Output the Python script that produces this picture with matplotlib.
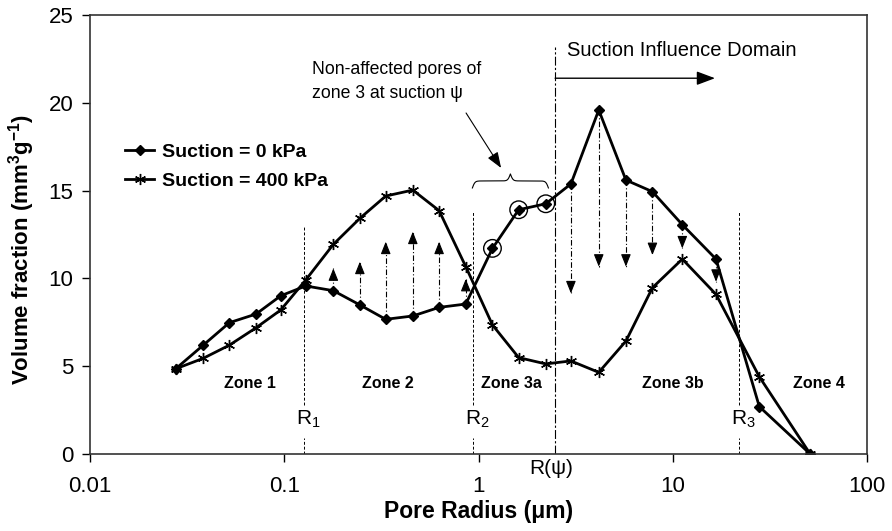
import numpy as np
import matplotlib.pyplot as plt

plt.rcParams['font.family'] = ['Liberation Sans', 'DejaVu Sans']
plt.rcParams['mathtext.fontset'] = 'custom'
plt.rcParams['mathtext.rm'] = 'Liberation Sans'
plt.rcParams['mathtext.bf'] = 'Liberation Sans:bold'

# pore radius (um) and volume fraction (mm3/g)
radius = [0.0276, 0.0383, 0.0522, 0.0716, 0.0959, 0.129, 0.179, 0.245, 0.333, 0.459,
          0.627, 0.860, 1.18, 1.61, 2.22, 2.99, 4.16, 5.74, 7.86, 11.2, 16.7, 27.9, 51.0]
suction_0 = [4.85, 6.2, 7.48, 7.97, 9.01, 9.57, 9.3, 8.49, 7.67, 7.86, 8.35, 8.54,
             11.71, 13.91, 14.25, 15.38, 19.59, 15.6, 14.94, 13.06, 11.1, 2.7, 0.0]
suction_400 = [4.85, 5.45, 6.2, 7.19, 8.2, 9.91, 11.94, 13.42, 14.69, 15.03, 13.86, 10.67,
               7.35, 5.49, 5.13, 5.30, 4.65, 6.43, 9.47, 11.1, 9.09, 4.40, 0.0]

# swelling arrows (zone 2, up) and shrinking arrows (zone 3b, down)
up_idx = [6, 7, 8, 9, 10, 11]
up_to = [10.57, 10.95, 12.09, 12.66, 12.09, 9.97]
down_idx = [15, 16, 17, 18, 19, 20]
down_to = [9.15, 10.67, 10.67, 11.33, 11.71, 9.81]
circled_idx = [12, 13, 14]

# zone boundaries
r_bounds = [0.126, 0.935, 21.9]
r_names = ['R$_1$', 'R$_2$', 'R$_3$']
r_tops = [13.0, 13.8, 13.8]
r_psi = 2.48
zone_x = [0.0667, 0.342, 1.48, 10.0, 56.8]
zone_names = ['Zone 1', 'Zone 2', 'Zone 3a', 'Zone 3b', 'Zone 4']

fig = plt.figure(figsize=(8.92, 5.31), dpi=100)
ax = fig.add_axes([90 / 892, 77 / 531, 777 / 892, 439 / 531])

ax.plot(radius, suction_0, color='k', lw=2, marker='D', ms=5, label='Suction = 0 kPa')
ax.plot(radius, suction_400, color='k', lw=2, marker=(6, 2, 0), ms=8, mew=1,
        label='Suction = 400 kPa')

x0 = np.array(radius)
y0 = np.array(suction_0)
ax.scatter(x0[circled_idx], y0[circled_idx], s=160, facecolors='none',
           edgecolors='k', lw=1, zorder=5)

head_kw = dict(arrowstyle='-|>,head_length=0.75,head_width=0.3', color='k', lw=0.8,
               shrinkA=0, shrinkB=0, mutation_scale=10)


def dash_arrow(x, y_from, y_to):
    ax.plot([x, x], [y_from, y_to], color='k', lw=0.8, ls=(0, (5, 2, 1, 2)))
    off = -7 if y_to > y_from else 7
    ax.annotate('', xy=(x, y_to), xytext=(0, off), textcoords='offset points',
                arrowprops=head_kw)


for i, top in zip(up_idx, up_to):
    dash_arrow(x0[i], y0[i], top)
for i, bot in zip(down_idx, down_to):
    dash_arrow(x0[i], y0[i], bot)

# R1, R2, R3 lines with a gap for the label
for xb, name, top in zip(r_bounds, r_names, r_tops):
    ax.plot([xb, xb], [2.8, top], color='k', lw=0.7, ls=(0, (3, 2)))
    ax.plot([xb, xb], [0, 0.9], color='k', lw=0.7, ls=(0, (3, 2)))
    ax.text(xb * 1.05, 2.0, name, fontsize=15, ha='center', va='center')

ax.plot([r_psi, r_psi], [0, 23.2], color='k', lw=0.8, ls=(0, (8, 2, 2, 2)))
ax.text(r_psi * 0.95, -0.8, 'R(ψ)', fontsize=15, ha='center', va='center', clip_on=False)

for zx, zn in zip(zone_x, zone_names):
    ax.text(zx, 4.04, zn, fontsize=11.5, fontweight='bold', ha='center', va='center')

ax.text(r_psi * 1.15, 23.0, 'Suction Influence Domain', fontsize=14.5, ha='left',
        va='center')
ax.annotate('', xy=(16.5, 21.4), xytext=(r_psi, 21.4),
            arrowprops=dict(arrowstyle='-|>,head_length=0.8,head_width=0.3', color='k',
                            lw=1, shrinkA=0, shrinkB=0, mutation_scale=14))

ax.text(0.139, 21.2, 'Non-affected pores of\nzone 3 at suction ψ', fontsize=12.7,
        ha='left', va='center', linespacing=1.5)
ax.annotate('', xy=(1.307, 16.29), xytext=(0.863, 19.42),
            arrowprops=dict(arrowstyle='-|>,head_length=0.8,head_width=0.3', color='k',
                            lw=0.8, shrinkA=0, shrinkB=0, mutation_scale=12))

# curly brace over the circled points
bx0, bx1 = np.log10(0.93), np.log10(2.29)
t = np.linspace(bx0, bx1, 201)
half = t[:101]
beta = 60.0 / (bx1 - bx0)
yh = 1 / (1 + np.exp(-beta * (half - half[0]))) + 1 / (1 + np.exp(-beta * (half - half[-1])))
yb = np.concatenate((yh, yh[-2::-1]))
ax.plot(10 ** t, 15.15 + (yb - yb.min()) / (yb.max() - yb.min()) * 0.8, color='k', lw=0.8)

ax.set_xscale('log')
ax.set_xlim(0.01, 100)
ax.set_ylim(0, 25)
ax.set_xticks([0.01, 0.1, 1, 10, 100])
ax.set_xticklabels(['0.01', '0.1', '1', '10', '100'])
ax.minorticks_off()
ax.set_yticks([0, 5, 10, 15, 20, 25])
ax.tick_params(axis='both', direction='out', length=6, width=1, labelsize=16,
               top=False, right=False)
ax.tick_params(axis='x', pad=10)
ax.tick_params(axis='y', pad=6)
for sp in ax.spines.values():
    sp.set_linewidth(1.2)
    sp.set_color('#333333')

ax.set_xlabel('Pore Radius (μm)', fontsize=16.5, fontweight='bold')
ax.set_ylabel('Volume fraction (mm$^\\mathbf{3}$g$^\\mathbf{-1}$)', fontsize=16,
              fontweight='bold')
ax.xaxis.set_label_coords(0.5, -0.132)
ax.xaxis.label.set_va('center')
ax.yaxis.set_label_coords(-0.0875, 0.467)
ax.yaxis.label.set_va('center')

ax.legend(loc='upper left', bbox_to_anchor=(0.045, 0.708), frameon=False,
          prop={'size': 14, 'weight': 'bold'}, handlelength=1.5, handletextpad=0.4,
          labelspacing=0.6, borderpad=0, borderaxespad=0)

fig.savefig('out.png', dpi=100)
